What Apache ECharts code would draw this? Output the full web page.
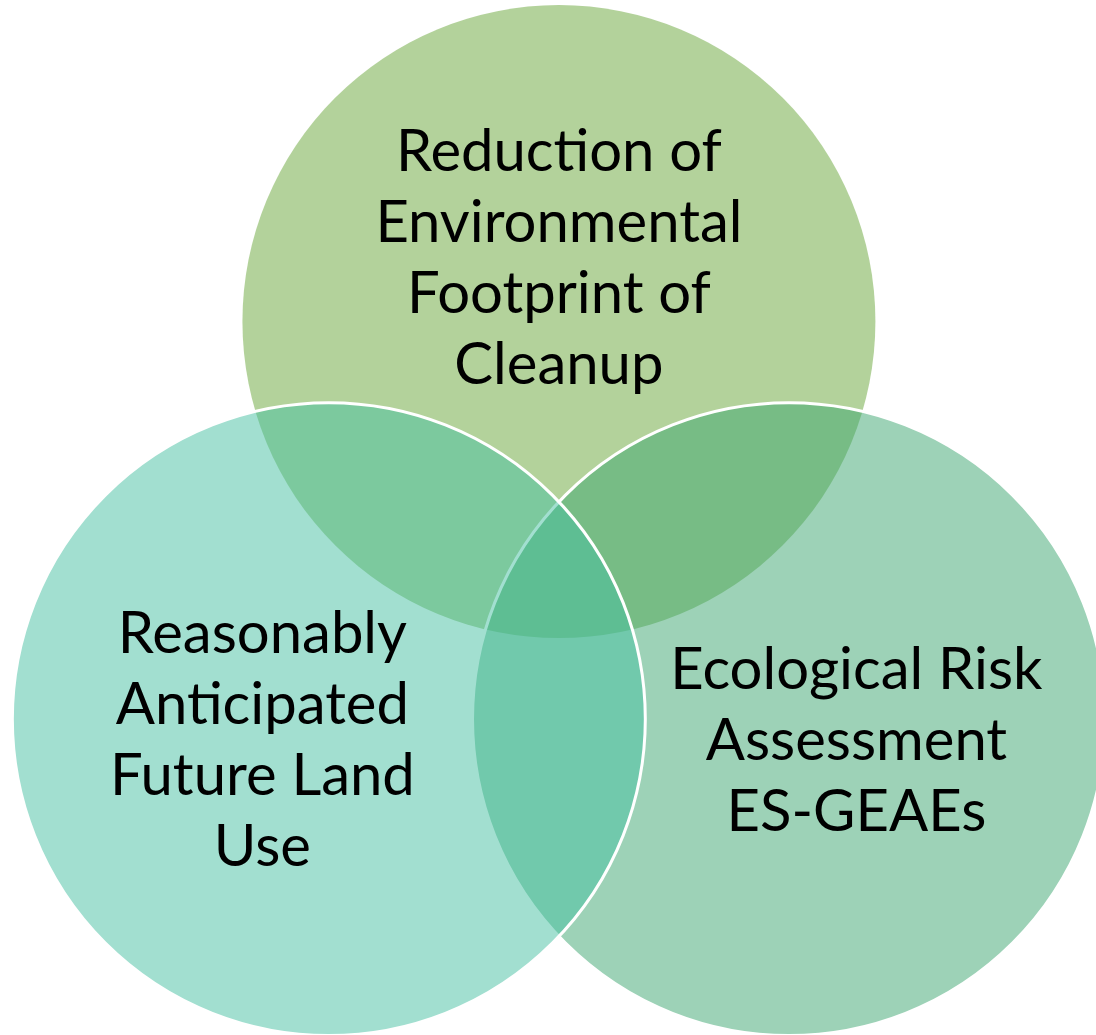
<!DOCTYPE html>
<html><head><meta charset="utf-8">
<script src="https://cdn.jsdelivr.net/npm/echarts@6/dist/echarts.min.js"></script>
<style>html,body{margin:0;padding:0;background:#fff;overflow:hidden}#c{width:1096px;height:1035px}</style>
</head><body><div id="c"></div>
<script>
// Venn sets, in drawing order (top, right, left); geometry in radius units
const setLabels = [
  'Reduction of\nEnvironmental\nFootprint of\nCleanup',
  'Ecological Risk\nAssessment\nES-GEAEs',
  'Reasonably\nAnticipated\nFuture Land\nUse'
];
const centerX = [0, 0.727, -0.727];
const centerY = [0.837, -0.419, -0.419];
const radius = [1, 1, 1];

// styles (kept apart from data)
const fills = ['rgba(103,165,55,0.5)', 'rgba(59,165,111,0.5)', 'rgba(69,191,161,0.5)'];
const strokes = [null, '#ffffff', '#ffffff'];
const labelDX = [0, 0.213, -0.21];
const labelDY = [0.197, -0.069, -0.069];

const data = setLabels.map((n, i) => [centerX[i], centerY[i], radius[i]]);
const chart = echarts.init(document.getElementById('c'), null, {renderer: 'canvas'});
chart.setOption({
  animation: false,
  backgroundColor: '#ffffff',
  grid: {left: 0, right: 0, top: 0, bottom: 0},
  xAxis: {type: 'value', min: -1.766, max: 1.697, show: false},
  yAxis: {type: 'value', min: -1.417, max: 1.853, show: false},
  series: [
    {
      type: 'custom',
      data: data,
      renderItem: function (params, api) {
        const i = params.dataIndex;
        const c = api.coord([api.value(0), api.value(1)]);
        const r = api.size([api.value(2), 0])[0];
        return {
          type: 'circle',
          shape: {cx: c[0], cy: c[1], r: r},
          style: {fill: fills[i], stroke: strokes[i] || 'none', lineWidth: strokes[i] ? 3 : 0}
        };
      }
    },
    {
      type: 'custom',
      data: data,
      z: 5,
      renderItem: function (params, api) {
        const i = params.dataIndex;
        const p = api.coord([api.value(0) + labelDX[i], api.value(1) + labelDY[i]]);
        return {
          type: 'text',
          x: p[0], y: p[1],
          style: {
            text: setLabels[i],
            fill: '#000000',
            fontFamily: 'Lato',
            fontSize: 58,
            lineHeight: 71,
            align: 'center',
            verticalAlign: 'middle'
          }
        };
      }
    }
  ]
});
</script>
</body></html>
